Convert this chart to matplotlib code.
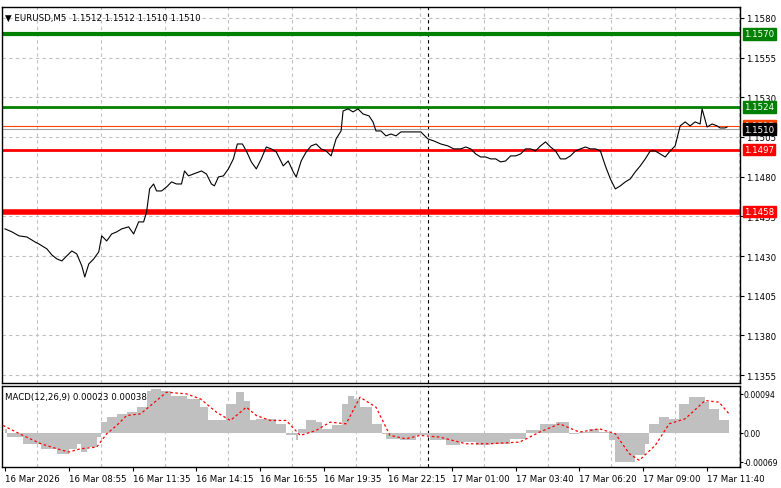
import matplotlib
matplotlib.use("Agg")
import matplotlib.pyplot as plt

# ---- data ----
price_x = [0,3.5,7,11,15,17,21,23.5,26,28.5,31,33.5,36,38.5,40,42,44.5,47,48.5,51,53.5,56,58.5,62,64.5,67,69.5,71,72.5,74.5,76,78.5,81,83.5,86,88.5,90,92,94.5,98.5,101,103.5,105,107,109.5,112,114.5,116.5,119,121,123.5,126,128.5,131,133.5,136,139.5,142,144.5,146,148.5,151,153.5,156,158.5,161,163.5,166,168.5,169.5,172,174.5,177,179.5,182.5,
           184.5,186,188.5,191,193.5,196,198.5,201,203.5,206,208.5,212,215,218.5,222,225,228.5,231,233.5,236,238.5,241,243.5,246,248.5,251,253.5,256,258.5,261,263.5,266,268.5,271,273.5,276,278.5,281,283.5,286,288.5,291,293.5,296,298.5,301,303.5,306,308.5,311,313.5,316,318.5,321,323.5,326,328.5,331,333.5,336,338.5,341,343.5,346,348.5,349.5,352,354.5,357,358.5,361,362]
price_y = [1.14471,1.14452,1.14427,1.14420,1.14389,1.14376,1.14345,1.14307,1.14282,1.14269,1.14301,1.14332,1.14313,1.14238,1.14168,1.14250,1.14282,1.14326,1.14427,1.14395,1.14439,1.14452,1.14471,1.14484,1.14439,1.14515,1.14515,1.14578,1.14723,1.14754,1.14710,1.14710,1.14735,1.14767,1.14754,1.14754,1.14836,1.14805,1.14817,1.14836,1.14817,1.14754,1.14742,1.14798,1.14805,1.14849,1.14912,1.15006,1.15006,1.14962,1.14893,1.14849,1.14912,1.14987,1.14975,1.14956,1.14868,1.14899,1.14830,1.14798,1.14899,1.14956,1.14994,1.15006,1.14975,1.14962,1.14931,1.15038,1.15088,1.15214,1.15227,1.15208,1.15227,1.15195,1.15183,
           1.15145,1.15088,1.15088,1.15057,1.15069,1.15057,1.15082,1.15082,1.15082,1.15082,1.15082,1.15038,1.15025,1.15006,1.14994,1.14975,1.14975,1.14987,1.14975,1.14943,1.14924,1.14924,1.14912,1.14912,1.14893,1.14899,1.14931,1.14931,1.14943,1.14975,1.14975,1.14962,1.14994,1.15019,1.14987,1.14962,1.14912,1.14912,1.14931,1.14962,1.14975,1.14987,1.14975,1.14975,1.14962,1.14868,1.14786,1.14723,1.14742,1.14767,1.14786,1.14830,1.14868,1.14912,1.14962,1.14962,1.14943,1.14924,1.14962,1.14994,1.15120,1.15145,1.15120,1.15145,1.15132,1.15227,1.15113,1.15132,1.15120,1.15107,1.15107,1.15113]

macd_x = [1,9,18,26,32,36,38,41,46,48,51,56,61,66,71,73,78,83,91,98,102,106,111,116,120,123,126,131,136,141,146,147,151,156,159,164,169,172,175,178,184,189,191,198,206,213,221,228,236,243,253,261,268,276,283,288,293,298,303,306,316,321,323,328,333,338,343,348,351,353,358,363]
macd_h = [0.0001,-0.0001,-0.00026,-0.00038,-0.0005,-0.00038,-0.00026,-0.00046,-0.00034,-0.0001,0.00026,0.00038,0.00046,0.0005,0.00062,0.00102,0.00106,0.00102,0.0009,0.00082,0.00062,0.0003,0.0003,0.0007,0.00098,0.00078,0.0003,0.00034,0.00034,0.00022,-0.00006,-0.00018,0.0001,0.0003,0.00026,0.0001,0.00018,0.0007,0.0009,0.00082,0.00062,0.00022,-0.00002,-0.00014,-0.00018,-0.00006,-0.00018,-0.0003,-0.00022,-0.0003,-0.00026,-0.00014,0.00006,0.00022,0.00026,-0.00002,0.00002,0.0001,0.00002,-0.00018,-0.0007,-0.00054,-0.00026,0.00022,0.00038,0.00034,0.0007,0.00086,0.00086,0.00074,0.00058,0.0003]
sig_x = [-1,9,18,26,32,38,46,51,56,61,68,73,81,91,98,106,113,121,126,133,141,148,156,163,171,178,186,193,201,208,218,231,243,258,268,278,288,298,306,313,318,326,333,341,351,358,363]
sig_y = [0.00018,-0.00006,-0.00026,-0.00038,-0.00046,-0.00038,-0.00034,-0.00002,0.00018,0.00042,0.00046,0.00066,0.00098,0.00094,0.00082,0.0005,0.0003,0.00062,0.00042,0.0003,0.0003,-0.00006,0.00006,0.00026,0.00022,0.00086,0.00062,-0.00006,-0.00014,-0.00006,-0.0001,-0.00026,-0.00026,-0.00022,0.00002,0.00022,0.00002,0.0001,-0.00002,-0.0005,-0.00066,-0.0003,0.00022,0.00034,0.00078,0.00074,0.00046]

price_ticks = [1.1580,1.1555,1.1530,1.1505,1.1480,1.1455,1.1430,1.1405,1.1380,1.1355]
levels = [(1.1570,'#008000',3.0),(1.1524,'#008000',2.0),(1.1497,'#ff0000',2.0),(1.1458,'#ff0000',4.0)]
time_pos = [0,32,64,96,128,160,192,224,256,288,320,352]
time_labels = ['16 Mar 2026','16 Mar 08:55','16 Mar 11:35','16 Mar 14:15','16 Mar 16:55','16 Mar 19:35',
               '16 Mar 22:15','17 Mar 01:00','17 Mar 03:40','17 Mar 06:20','17 Mar 09:00','17 Mar 11:40']
macd_ticks = [0.00094,0.0,-0.00069]
macd_tick_labels = ['0.00094','0.00','-0.00069']

W, H = 781, 489
fig = plt.figure(figsize=(W/100, H/100), dpi=100)
plt.rcParams['font.family'] = 'DejaVu Sans'
fs = 6.2
xl = (-1.5, 368.5)

def frac(x0, y0, x1, y1):
    return [x0/W, 1-y1/H, (x1-x0)/W, (y1-y0)/H]

ax = fig.add_axes(frac(2, 8, 740, 384))
ax2 = fig.add_axes(frac(2, 387, 740, 468))

for a in (ax, ax2):
    a.set_xlim(*xl)
    for s in a.spines.values():
        s.set_color('black'); s.set_linewidth(1)
    a.set_xticks(time_pos)
    for t in time_pos:
        a.axvline(t + 16, color='#c0c0c0', ls=(0,(3,3)), lw=0.8, zorder=0)
    a.axvline(212, color='black', ls=(0,(3,3)), lw=0.8, zorder=1)
    a.yaxis.tick_right()
    a.tick_params(axis='y', labelsize=fs, length=3, pad=1, direction='out')

ax.set_ylim(1.13500, 1.15869)
ax.set_yticks(price_ticks)
ax.set_yticklabels([f'{v:.4f}' for v in price_ticks])
for v in price_ticks:
    ax.axhline(v, color='#c0c0c0', ls=(0,(3,3)), lw=0.8, zorder=0)
ax.tick_params(axis='x', length=0, labelbottom=False)

for v, c, lw in levels:
    ax.axhline(v, color=c, lw=lw, zorder=2)
ax.axhline(1.1512, color='#ff4500', lw=0.8, zorder=2)
ax.axhline(1.1510, color='#a0a0a0', lw=0.8, zorder=2)
ax.plot(price_x, price_y, color='black', lw=0.8, zorder=3)

def tag(a, v, text, bg, fg='white'):
    a.annotate(text, xy=(1.0, v), xycoords=('axes fraction', 'data'), xytext=(3, 0),
               textcoords='offset points', va='center', ha='left', fontsize=fs, color=fg,
               bbox=dict(boxstyle='square,pad=0.15', fc=bg, ec=bg), annotation_clip=False)

tag(ax, 1.1570, '1.1570', '#008000')
tag(ax, 1.1524, '1.1524', '#008000')
tag(ax, 1.1512, '1.1512', '#ff4500')
tag(ax, 1.1510, '1.1510', 'black')
tag(ax, 1.1497, '1.1497', '#ff0000')
tag(ax, 1.1458, '1.1458', '#ff0000')

ax.text(0.004, 0.985, '\u25BC EURUSD,M5  1.1512 1.1512 1.1510 1.1510', transform=ax.transAxes,
        fontsize=fs, va='top', ha='left')

# MACD
lefts = [macd_x[0]-1] + macd_x[:-1]
ax2.bar(lefts, macd_h, width=[r - l for l, r in zip(lefts, macd_x)], align='edge', color='#c0c0c0', lw=0, zorder=2)
ax2.plot(sig_x, sig_y, color='#ff0000', lw=0.9, ls=(0,(2,2)), zorder=3)
ax2.set_ylim(-0.00082, 0.00113)
ax2.set_yticks(macd_ticks)
ax2.set_yticklabels(macd_tick_labels)
ax2.tick_params(axis='y', labelsize=5.6, length=2, pad=0.5)
ax2.text(0.004, 0.93, 'MACD(12,26,9) 0.00023 0.00038', transform=ax2.transAxes, fontsize=fs, va='top', ha='left')
ax2.set_xticklabels(time_labels, fontsize=fs, ha='left')
ax2.tick_params(axis='x', length=3, pad=2, direction='out')

fig.savefig('out.png', dpi=100)
